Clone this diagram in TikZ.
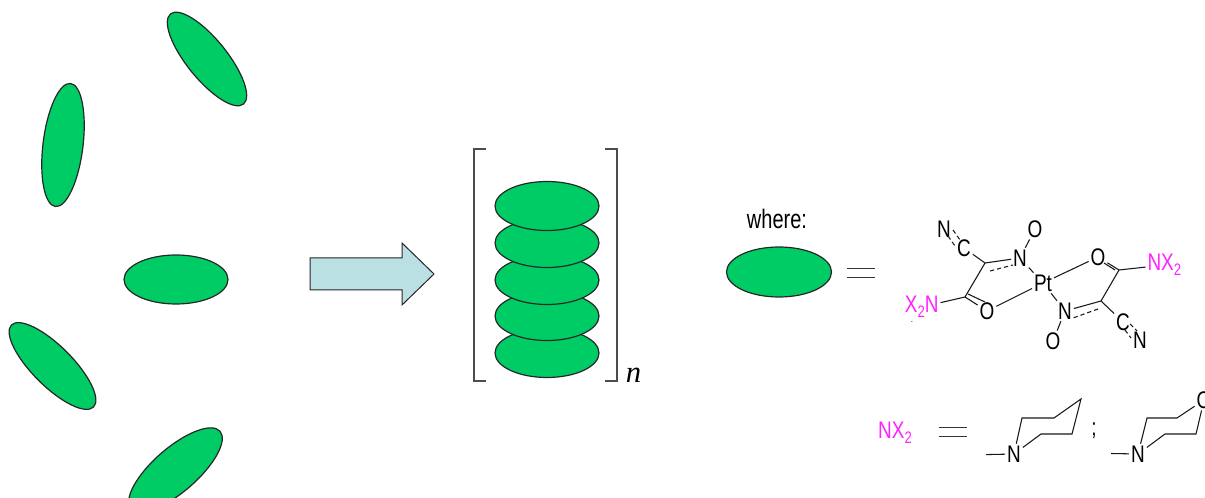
\documentclass[tikz,border=0pt]{standalone}
\usepackage{fontspec}
\setmainfont{Liberation Sans}
\newfontfamily\narrowf[FakeStretch=0.79]{Liberation Sans}
\newfontfamily\wheref[FakeStretch=0.75]{Liberation Sans}
\newfontfamily\nserif{Liberation Serif}
\usetikzlibrary{shapes.geometric,calc}
\definecolor{blobgreen}{HTML}{00CC66}
\definecolor{arrowblue}{HTML}{BBE0E3}
\definecolor{magentax}{HTML}{FF22FF}
\newcommand{\blob}[6]{\node[blob,minimum width=#4*0.75pt,minimum height=#5*0.75pt,rotate=#6] (#1) at (#2,#3) {};}
\newcommand{\subtwo}{\raisebox{-3.4pt}{\fontsize{12.5pt}{13pt}\selectfont 2}}
\tikzset{
  blob/.style={ellipse,draw=black!85,line width=0.9pt,fill=blobgreen,inner sep=0pt,outer sep=0pt},
  atom/.style={font=\narrowf\fontsize{18pt}{20pt}\selectfont,inner sep=0pt,outer sep=1.5pt,text=black},
  matom/.style={atom,text=magentax},
  bond/.style={line width=0.8pt,black!90},
  dbond/.style={line width=0.8pt,black!90,dash pattern=on 3.2pt off 2.2pt},
  eqline/.style={line width=0.75pt,black!80},
  brack/.style={line width=0.85pt,black!70},
}
\begin{document}
\begin{tikzpicture}[x=0.75pt,y=-0.75pt]
\useasboundingbox (0,0) rectangle (1205,498);
\clip (0,0) rectangle (1205,498);
% scattered discs
\blob{d1}{207}{59}{116}{40}{-51}
\blob{d2}{63}{145}{124}{40}{83}
\blob{d3}{176}{279.5}{104}{49}{0}
\blob{d4}{52.5}{366}{116}{40}{-45}
\blob{d5}{175.5}{470}{118}{44}{41}
% block arrow
\node[coordinate] (arrA) at (310,258) {};
\draw[line width=0.75pt,black!85,fill=arrowblue,line join=miter]
  (arrA) -- (402,258) -- (402,243) -- (434,274) -- (402,305) -- (402,290) -- (310,290) -- cycle;
% stack
\blob{s5}{547}{353}{104}{49}{0}
\blob{s4}{547}{316}{104}{49}{0}
\blob{s3}{547}{280}{104}{49}{0}
\blob{s2}{547}{243}{104}{49}{0}
\blob{s1}{547}{206}{104}{49}{0}
% brackets
\draw[brack] (486,149) -- (474,149) -- (474,381) -- (486,381);
\draw[brack] (605,149) -- (617,149) -- (617,381) -- (605,381);
\node[inner sep=0pt,font=\nserif\itshape\fontsize{23pt}{25pt}\selectfont] (nlabel) at (633.5,375.5) {n};
% where
\node[inner sep=0pt,font=\wheref\fontsize{20pt}{22pt}\selectfont] (where) at (777,219) {where:};
\blob{w}{779}{272}{105}{50}{0}
\coordinate (e1a) at (847,269); \coordinate (e1b) at (875,269);
\coordinate (e2a) at (847,278); \coordinate (e2b) at (875,278);
\draw[eqline] (e1a) -- (e1b); \draw[eqline] (e2a) -- (e2b);
% Pt complex
\node[atom] (N1) at (944,229) {N};
\node[atom] (C1) at (964,248) {C};
\coordinate (J1) at (985,263);
\node[atom] (N2) at (1020,258) {N};
\node[atom] (O1) at (1035,229) {O};
\node[atom] (Pt) at (1043,283) {Pt};
\node[atom] (O2) at (1098,257) {O};
\coordinate (K1) at (1119,270);
\node[matom,anchor=west] (NXr) at (1145.5,265) {NX\subtwo};
\coordinate (J2) at (1101,301);
\node[atom] (N3) at (1065,311) {N};
\node[atom] (O3) at (1053,341) {O};
\node[atom] (C2) at (1123,322) {C};
\node[atom] (N4) at (1140,340) {N};
\node[matom,anchor=east] (NXl) at (940.5,307) {X\subtwo N};
\coordinate (K2) at (965,297);
\node[atom] (O4) at (987,311) {O};
\node[inner sep=0pt,font=\fontsize{6pt}{6pt}\selectfont] (speck) at (912,322) {.};
\draw[bond] (C1) -- (J1);
\draw[bond] (J1) -- (N2);
\draw[bond] (J1) -- (K2);
\draw[bond] (N2) -- (Pt);
\draw[bond] (N2) -- (O1);
\draw[bond] (Pt) -- (O2);
\draw[bond] (Pt) -- (O4);
\draw[bond] (Pt) -- (N3);
\draw[bond] (O2) -- (K1);
\draw[bond] (K1) -- (NXr);
\draw[bond] (K1) -- (J2);
\draw[bond] (J2) -- (N3);
\draw[bond] (J2) -- (C2);
\draw[bond] (N3) -- (O3);
\draw[bond] (K2) -- (NXl);
\draw[bond] (K2) -- (O4);
% second lines of double bonds
\draw[dbond] ($(J1)+(5,8)$) -- ($(N2)+(-7,7)$);
\draw[dbond] ($(J2)+(-3,8)$) -- ($(N3)+(8,7)$);
\draw[bond] ($(K1)+(-4,0)$) -- ($(O2)+(6,6)$);
\draw[bond] ($(K2)+(3,-3)$) -- ($(O4)+(-2,-9)$);
\draw[dbond] ($(N1)+(9,1)$) -- ($(C1)+(-4,-8)$);
\draw[dbond] ($(N1)+(4,7)$) -- ($(C1)+(-9,-2)$);
\draw[dbond] ($(C2)+(7,2)$) -- ($(N4)+(-3,-9)$);
\draw[dbond] ($(C2)+(2,8)$) -- ($(N4)+(-9,-2)$);
% NX2 line
\node[matom] (NXa) at (895,433) {NX\subtwo};
\coordinate (e3a) at (939,427); \coordinate (e3b) at (967,427);
\coordinate (e4a) at (939,436); \coordinate (e4b) at (967,436);
\draw[eqline] (e3a) -- (e3b); \draw[eqline] (e4a) -- (e4b);
% piperidine
\node[atom] (Pn) at (1014,454) {N};
\coordinate (Pt0) at (986,454.6);
\coordinate (Pa) at (1022,418); \coordinate (Pb) at (1054,418);
\coordinate (Pc) at (1081,399); \coordinate (Pd) at (1072,434); \coordinate (Pe) at (1041,434);
\draw[bond] (Pt0) -- (Pn);
\draw[bond,line join=miter] (Pn) -- (Pa) -- (Pb) -- (Pc) -- (Pd) -- (Pe) -- (Pn);
\node[atom] (semi) at (1094,431) {;};
% morpholine
\node[atom] (Mn) at (1138,454) {N};
\coordinate (Mt0) at (1111,453.5);
\coordinate (Ma) at (1147,418); \coordinate (Mb) at (1177,418);
\node[atom] (Mo) at (1204,400) {O};
\coordinate (Md) at (1196,434); \coordinate (Me) at (1165,434);
\draw[bond] (Mt0) -- (Mn);
\draw[bond] (Mn) -- (Ma) -- (Mb) -- (Mo);
\draw[bond] (Mo) -- (Md) -- (Me) -- (Mn);
\end{tikzpicture}
\end{document}
